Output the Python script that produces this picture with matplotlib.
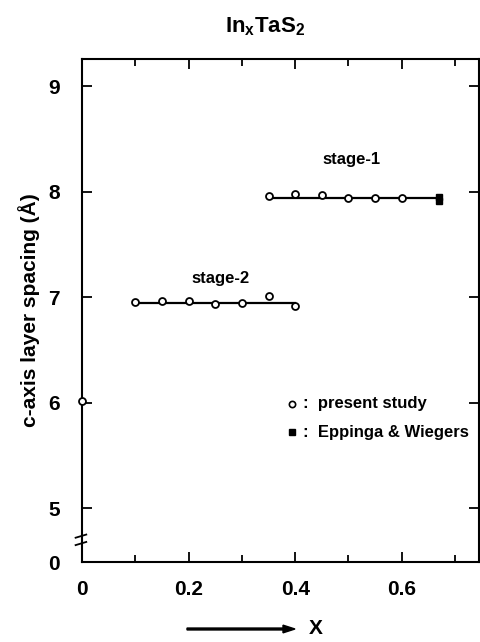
import numpy as np
import matplotlib
matplotlib.use('Agg')
import matplotlib.pyplot as plt

plt.rcParams['font.family'] = ['Liberation Sans', 'DejaVu Sans']
plt.rcParams['font.weight'] = 'bold'
plt.rcParams['axes.labelweight'] = 'bold'

# data
x_s2 = [0.10, 0.15, 0.20, 0.25, 0.30, 0.35, 0.40]
y_s2 = [6.95, 6.96, 6.96, 6.93, 6.94, 7.01, 6.92]
x_s1 = [0.35, 0.40, 0.45, 0.50, 0.55, 0.60]
y_s1 = [7.96, 7.98, 7.97, 7.94, 7.94, 7.94]
x_ew = [0.67, 0.67]
y_ew = [7.95, 7.91]
x_zero = [0.0]
y_zero = [6.02]
fit_s2 = ([0.10, 0.40], [6.945, 6.945])
fit_s1 = ([0.35, 0.67], [7.94, 7.94])

y_ticks = [5, 6, 7, 8, 9]
x_ticks = [0, 0.2, 0.4, 0.6]
y_zero_pos = 4.49  # where "0" sits below the axis break

fig = plt.figure(figsize=(4.8, 6.42), dpi=100)
ax = fig.add_axes([82/480, 1 - 562/642, 397/480, 503/642])

ax.plot(*fit_s2, color='black', lw=1.6)
ax.plot(*fit_s1, color='black', lw=1.6)
mk = dict(ls='none', marker='o', ms=5, mfc='white', mec='black', mew=1.3, zorder=3)
ax.plot(x_s2, y_s2, **mk)
ax.plot(x_s1, y_s1, **mk)
ax.plot(x_zero, y_zero, clip_on=False, **mk)
ax.plot(x_ew, y_ew, ls='none', marker='s', ms=4.5, color='black', zorder=3)

ax.text(0.26, 7.18, 'stage-2', ha='center', va='center', fontsize=12)
ax.text(0.505, 8.30, 'stage-1', ha='center', va='center', fontsize=12)
ax.plot([0.395], [5.99], ls='none', marker='o', ms=4.5, mfc='white', mec='black', mew=1.2)
ax.text(0.415, 5.99, ':  present study', ha='left', va='center', fontsize=12)
ax.plot([0.395], [5.72], ls='none', marker='s', ms=4.5, color='black')
ax.text(0.415, 5.72, ':  Eppinga & Wiegers', ha='left', va='center', fontsize=12)

ax.set_xlim(0, 0.745)
ax.set_ylim(y_zero_pos, 9.256)
ax.set_xticks(x_ticks)
ax.set_xticklabels(['0', '0.2', '0.4', '0.6'])
ax.set_xticks(np.arange(0.1, 0.75, 0.1), minor=True)
ax.set_yticks([y_zero_pos] + y_ticks)
ax.set_yticklabels(['0'] + [str(v) for v in y_ticks])
ax.tick_params(axis='both', which='both', direction='in', top=True, right=True,
               labelsize=15, width=1.3)
ax.tick_params(axis='x', which='major', length=7, pad=13)
ax.tick_params(axis='x', which='minor', length=5)
ax.tick_params(axis='y', length=7, pad=16)
for s in ax.spines.values():
    s.set_linewidth(1.5)

# axis break marks on the left spine
for yb in [4.66, 4.73]:
    ax.plot([-0.012, 0.008], [yb - 0.01, yb + 0.02], color='black', lw=1.3, clip_on=False)

ax.set_ylabel('c-axis layer spacing (Å)', fontsize=15, labelpad=6)

fig.text(265/480, 1 - 27/642, r'In$_\mathregular{x}$TaS$_\mathregular{2}$', ha='center', va='center', fontsize=16)
fig.patches.append(matplotlib.patches.FancyArrow(187/480, 1 - 629/642, 108/480, 0, width=0.003,
                                                  head_width=0.012, head_length=0.025,
                                                  length_includes_head=True, color='black',
                                                  transform=fig.transFigure, figure=fig))
fig.text(316/480, 1 - 629/642, 'X', ha='center', va='center', fontsize=15)

fig.savefig('out.png', dpi=100)
